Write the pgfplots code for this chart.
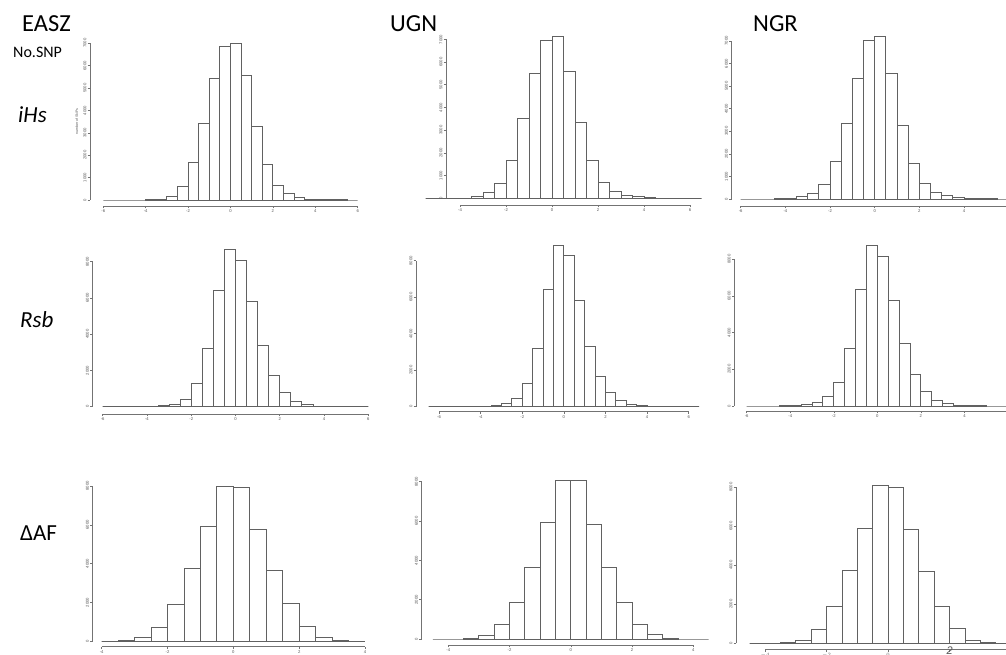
\documentclass[border=0pt]{standalone}
\usepackage{pgfplots}
\pgfplotsset{compat=1.18}
\usepackage{fontspec}
\setmainfont{Carlito}
\newfontfamily\rfont{Liberation Sans}

% histogram counts: left bin edge, count (last row closes the final bin)
% --- iHs ---
\newcommand\ihsEASZ{(-6,0)(-5.5,0)(-5,0)(-4.5,0)(-4,15)(-3.5,30)(-3,180)(-2.5,625)(-2,1680)(-1.5,3420)(-1,5430)(-0.5,6850)(0,7000)(0.5,5550)(1,3300)(1.5,1590)(2,670)(2.5,270)(3,120)(3.5,45)(4,20)(4.5,10)(5,5)(5.5,0)(6,0)}
\newcommand\ihsUGN{(-5.5,0)(-5,0)(-4.5,10)(-4,15)(-3.5,70)(-3,265)(-2.5,660)(-2,1650)(-1.5,3500)(-1,5510)(-0.5,6950)(0,7130)(0.5,5590)(1,3340)(1.5,1650)(2,690)(2.5,295)(3,130)(3.5,70)(4,30)(4.5,15)(5,5)(5.5,0)(6,0)(6.5,0)}
\newcommand\ihsNGR{(-6,0)(-5.5,0)(-5,0)(-4.5,15)(-4,30)(-3.5,100)(-3,235)(-2.5,665)(-2,1680)(-1.5,3350)(-1,5350)(-0.5,7020)(0,7210)(0.5,5570)(1,3250)(1.5,1580)(2,680)(2.5,295)(3,160)(3.5,90)(4,45)(4.5,30)(5,10)(5.5,0)(6,0)}
% --- Rsb ---
\newcommand\rsbEASZ{(-6,0)(-5.5,0)(-5,0)(-4.5,5)(-4,20)(-3.5,55)(-3,150)(-2.5,420)(-2,1300)(-1.5,3210)(-1,6400)(-0.5,8660)(0,8090)(0.5,5800)(1,3380)(1.5,1725)(2,770)(2.5,295)(3,110)(3.5,40)(4,15)(4.5,5)(5,0)(5.5,0)(6,0)}
\newcommand\rsbUGN{(-6.5,0)(-6,0)(-5.5,0)(-5,0)(-4.5,10)(-4,35)(-3.5,90)(-3,165)(-2.5,455)(-2,1280)(-1.5,3200)(-1,6430)(-0.5,8860)(0,8310)(0.5,5830)(1,3310)(1.5,1680)(2,785)(2.5,330)(3,145)(3.5,55)(4,35)(4.5,15)(5,5)(5.5,0)(6,0)(6.5,0)}
\newcommand\rsbNGR{(-6,0)(-5.5,0)(-5,0)(-4.5,20)(-4,55)(-3.5,110)(-3,220)(-2.5,545)(-2,1310)(-1.5,3160)(-1,6330)(-0.5,8780)(0,8180)(0.5,5760)(1,3420)(1.5,1745)(2,780)(2.5,310)(3,125)(3.5,35)(4,20)(4.5,10)(5,0)(5.5,0)(6,0)}
% --- Delta AF ---
\newcommand\dafEASZ{(-4,0)(-3.5,20)(-3,190)(-2.5,720)(-2,1920)(-1.5,3760)(-1,5900)(-0.5,7970)(0,7950)(0.5,5770)(1,3670)(1.5,1960)(2,755)(2.5,190)(3,35)(3.5,0)(4,0)}
\newcommand\dafUGN{(-4.5,0)(-4,0)(-3.5,35)(-3,200)(-2.5,730)(-2,1880)(-1.5,3640)(-1,5930)(-0.5,8080)(0,8050)(0.5,5830)(1,3640)(1.5,1880)(2,745)(2.5,220)(3,50)(3.5,0)(4,0)(4.5,0)}
\newcommand\dafNGR{(-4.5,0)(-4,0)(-3.5,35)(-3,170)(-2.5,720)(-2,1900)(-1.5,3760)(-1,5880)(-0.5,8090)(0,8000)(0.5,5850)(1,3660)(1.5,1915)(2,770)(2.5,170)(3,35)(3.5,0)(4,0)(4.5,0)}

\pgfplotsset{
  rhist/.style={
    scale only axis, clip=false,
    axis x line*=bottom, axis y line*=left,
    axis line style={-, draw=black!55, line width=0.7pt},
    ymin=0,
    x tick label as interval=false,
    tick align=outside, major tick length=2.5pt,
    tick style={draw=black!55, line width=0.6pt},
    tick label style={font=\rfont\fontsize{4.2}{5}\selectfont, text=black!65},
    /pgf/number format/assume math mode=true,
    /pgf/number format/1000 sep={},
    scaled ticks=false,
    yticklabel style={rotate=90, anchor=south, inner sep=1pt},
    xticklabel style={inner sep=1pt},
  },
  rbars/.style={ybar interval, fill=white, draw=black!62, line width=0.9pt},
  row1/.style={ymax=7000, ytick={0,1000,...,7000}},
  row2/.style={ymax=8000, ytick={0,2000,...,8000}, xmin=-6, xmax=6, xtick={-6,-4,...,6}},
  row3/.style={ymax=8000, ytick={0,2000,...,8000}, xmin=-4, xmax=4, xtick={-4,-2,...,4}},
}

\begin{document}
\begin{tikzpicture}[x=1pt,y=1pt]
\path[use as bounding box] (0pt,0pt) rectangle (1006pt,655pt);

% row labels and population names
\node[anchor=west, inner sep=0pt, font=\fontsize{24.5}{28}\selectfont] at (22pt,631pt) {EASZ};
\node[anchor=west, inner sep=0pt, font=\fontsize{24.5}{28}\selectfont] at (390pt,631pt) {UGN};
\node[anchor=west, inner sep=0pt, font=\fontsize{24.5}{28}\selectfont] at (753pt,631pt) {NGR};
\node[anchor=west, inner sep=0pt, font=\fontsize{16}{18}\selectfont] at (13pt,603pt) {No.SNP};
\node[anchor=west, inner sep=0pt, font=\fontsize{23}{26}\selectfont\itshape] at (18pt,540pt) {iHs};
\node[anchor=west, inner sep=0pt, font=\fontsize{23}{26}\selectfont\itshape] at (20pt,335pt) {Rsb};
\node[anchor=west, inner sep=0pt, font=\fontsize{23}{26}\selectfont] at (20pt,122pt) {ΔAF};

% ---- iHs ----
\begin{axis}[rhist, row1, at={(103.3pt,455pt)}, anchor=south west, width=254.4pt, height=156.7pt,
  xmin=-6, xmax=6, xtick={-6,-4,...,6}, axis y line shift=13.3pt, axis x line shift=6pt,
  ylabel={number of SNPs}, ylabel style={font=\rfont\fontsize{3.6}{4}\selectfont, text=black!65, inner sep=1pt, yshift=3pt}]
\addplot[rbars] coordinates {\ihsEASZ};
\end{axis}
\begin{axis}[rhist, row1, at={(460pt,456.7pt)}, anchor=south west, width=230pt, height=158.9pt,
  xmin=-4, xmax=6, xtick={-4,-2,...,6}, axis y line shift=14pt, axis x line shift=6.7pt]
\addplot[rbars] coordinates {\ihsUGN};
\end{axis}
\begin{axis}[rhist, row1, at={(740.7pt,456pt)}, anchor=south west, width=268pt, height=158pt,
  xmin=-6, xmax=6, xtick={-6,-4,...,6}, axis y line shift=9pt, axis x line shift=7pt]
\addplot[rbars] coordinates {\ihsNGR};
\end{axis}

% ---- Rsb ----
\begin{axis}[rhist, row2, at={(102.7pt,248.3pt)}, anchor=south west, width=265.6pt, height=145pt,
  axis y line shift=10pt, axis x line shift=7.3pt]
\addplot[rbars] coordinates {\rsbEASZ};
\end{axis}
\begin{axis}[rhist, row2, at={(439pt,248.3pt)}, anchor=south west, width=249.7pt, height=146pt,
  axis y line shift=23pt, axis x line shift=5pt]
\addplot[rbars] coordinates {\rsbUGN};
\end{axis}
\begin{axis}[rhist, row2, at={(746.7pt,249pt)}, anchor=south west, width=261.3pt, height=146.7pt,
  axis y line shift=12.4pt, axis x line shift=5pt]
\addplot[rbars] coordinates {\rsbNGR};
\end{axis}

% ---- Delta AF ----
\begin{axis}[rhist, row3, at={(101.7pt,13.7pt)}, anchor=south west, width=263.3pt, height=155.3pt,
  axis y line shift=9pt, axis x line shift=5.4pt]
\addplot[rbars] coordinates {\dafEASZ};
\end{axis}
\begin{axis}[rhist, row3, at={(448.3pt,16pt)}, anchor=south west, width=245pt, height=157.3pt,
  axis y line shift=26.6pt, axis x line shift=6pt]
\addplot[rbars] coordinates {\dafUGN};
\end{axis}
\begin{axis}[rhist, row3, at={(765pt,11.7pt)}, anchor=south west, width=246.3pt, height=156pt,
  axis y line shift=29pt, axis x line shift=6pt,
  xticklabels={$-4$,$-2$,$0$,{\smash{\raisebox{-2pt}{\fontsize{11}{11}\selectfont\itshape 2}}},$4$}]
\addplot[rbars] coordinates {\dafNGR};
\end{axis}
\end{tikzpicture}
\end{document}
